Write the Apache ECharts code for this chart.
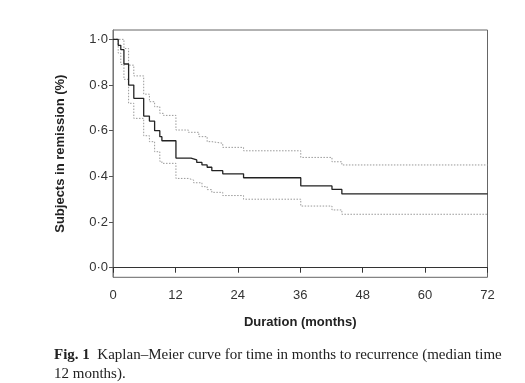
<!DOCTYPE html>
<html><head><meta charset="utf-8">
<script src="https://cdn.jsdelivr.net/npm/echarts@6/dist/echarts.min.js"></script>
<style>html,body{margin:0;padding:0;background:#fff}#c{width:525px;height:383px}</style>
</head><body><div id="c"></div>
<script>
const xTicks = [0, 12, 24, 36, 48, 60, 72];
const yTicks = [0, 0.2, 0.4, 0.6, 0.8, 1.0];
const survTimes  = [0,1.0,1.5,2.1,3.0,4.0,5.9,7.0,8.0,9.0,9.4,12.1,15.0,16.1,17.1,18.1,19.0,21.1,25.1,36.1,42.1,44.0,72];
const survValues = [1,0.974,0.955,0.892,0.80,0.742,0.664,0.642,0.600,0.574,0.556,0.480,0.472,0.461,0.450,0.440,0.425,0.411,0.394,0.358,0.343,0.323,0.323];
const upperTimes  = [0,2.1,3.0,4.0,5.9,7.0,8.0,9.0,9.7,12.1,14.5,16.5,18.1,19.0,21.1,25.1,36.1,42.1,44.0,72];
const upperValues = [1,0.96,0.887,0.84,0.76,0.727,0.705,0.676,0.667,0.603,0.593,0.574,0.552,0.545,0.527,0.512,0.483,0.464,0.45,0.45];
const lowerTimes  = [0,1.0,1.5,2.1,3.0,4.0,5.9,7.0,8.0,9.0,9.4,12.1,14.5,15.5,17.1,18.1,19.0,21.1,25.1,36.1,42.1,44.0,72];
const lowerValues = [1,0.94,0.89,0.825,0.72,0.654,0.578,0.552,0.508,0.466,0.457,0.391,0.384,0.372,0.355,0.342,0.330,0.316,0.300,0.270,0.253,0.234,0.234];
const xTitle = 'Duration (months)';
const yTitle = 'Subjects in remission (%)';
const captionLine1 = 'Kaplan–Meier curve for time in months to recurrence (median time';
const captionLine2 = '12 months).';

const pair = (ts, vs) => ts.map((t, i) => [t, vs[i]]);
const chart = echarts.init(document.getElementById('c'), null, {renderer: 'canvas'});
const sans = 'Liberation Sans, Arial, sans-serif';
chart.setOption({
  animation: false,
  backgroundColor: '#fff',
  grid: {left: 113, right: 37.5, top: 30, bottom: 105.7, show: true, borderColor: '#666', borderWidth: 1, backgroundColor: 'transparent'},
  xAxis: {
    type: 'value', min: 0, max: 72, interval: 12,
    axisLine: {show: true, lineStyle: {color: '#333', width: 1}},
    axisTick: {show: true, length: 5, lineStyle: {color: '#333'}},
    splitLine: {show: false},
    axisLabel: {color: '#333', fontSize: 13, fontFamily: sans, margin: 12,
      customValues: xTicks},
    name: xTitle, nameLocation: 'middle', nameGap: 39,
    nameTextStyle: {fontWeight: 'bold', fontSize: 13, color: '#222', fontFamily: sans}
  },
  yAxis: {
    type: 'value', min: -0.042, max: 1.041,
    axisLine: {show: true, lineStyle: {color: '#777', width: 1}},
    axisTick: {show: true, length: 4, lineStyle: {color: '#555'}, customValues: yTicks},
    splitLine: {show: false},
    axisLabel: {color: '#333', fontSize: 13, fontFamily: sans, margin: 5,
      customValues: yTicks,
      formatter: v => v.toFixed(1).replace('.', '·')},
    name: yTitle, nameLocation: 'middle', nameGap: 46, nameRotate: 90,
    nameTextStyle: {fontWeight: 'bold', fontSize: 13, color: '#222', fontFamily: sans}
  },
  series: [
    {type: 'line', step: 'end', showSymbol: false, symbol: 'none', data: pair(upperTimes, upperValues),
     lineStyle: {color: '#999', width: 1, type: [1.5, 1.5]}, z: 2},
    {type: 'line', step: 'end', showSymbol: false, symbol: 'none', data: pair(lowerTimes, lowerValues),
     lineStyle: {color: '#999', width: 1, type: [1.5, 1.5]}, z: 2},
    {type: 'line', step: 'end', showSymbol: false, symbol: 'none', data: pair(survTimes, survValues),
     lineStyle: {color: '#222', width: 1.3}, z: 3}
  ],
  graphic: [
    {type: 'text', left: 54, top: 348, style: {
      text: '{b|Fig. 1}  ' + captionLine1,
      fontFamily: 'Liberation Serif, Times New Roman, serif', fontSize: 15, fill: '#222',
      rich: {b: {fontWeight: 'bold', fontFamily: 'Liberation Serif, serif', fontSize: 15, fill: '#222'}}
    }},
    {type: 'text', left: 54, top: 367, style: {
      text: captionLine2,
      fontFamily: 'Liberation Serif, Times New Roman, serif', fontSize: 15, fill: '#222'
    }}
  ]
});
</script></body></html>
